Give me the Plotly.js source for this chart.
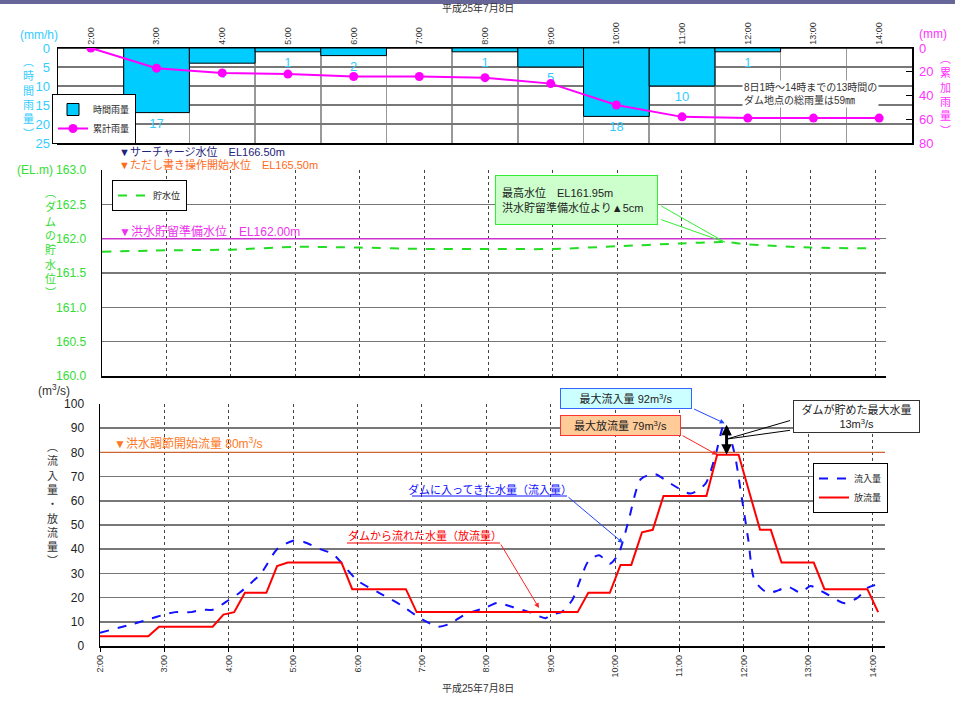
<!DOCTYPE html>
<html>
<head>
<meta charset="utf-8">
<script src="https://cdn.plot.ly/plotly-3.0.1.min.js"></script>
<style>html,body{margin:0;padding:0;background:#fff;}#chart{width:955px;height:701px;}</style>
</head>
<body>
<div id="chart"></div>
<script>
// ---------- data ----------
const hourTicks = ['2:00','3:00','4:00','5:00','6:00','7:00','8:00','9:00','10:00','11:00','12:00','13:00','14:00'];
const dateLabel = '平成25年7月8日';

// rainfall (top panel)
const rainTimes = ['2:00','3:00','4:00','5:00','6:00','7:00','8:00','9:00','10:00','11:00','12:00','13:00','14:00'];
const hourlyRain = [0,17,4,1,2,0,1,5,18,10,1,0,0];
const cumulativeRain = [0,17,21,22,24,24,25,30,48,58,59,59,59];

// reservoir level (middle panel)
const levelTimes = ['2:00','3:00','4:00','5:00','6:00','7:00','8:00','9:00','10:00','11:00','11:40','12:00','13:00','14:00'];
const levelValues = [161.81,161.83,161.84,161.88,161.87,161.85,161.85,161.85,161.89,161.93,161.95,161.92,161.87,161.86];
const floodPrepLevel = 162.00;

// inflow / outflow (bottom panel)
const inflowTimes = ['2:00','2:30','2:45','3:00','3:10','3:25','3:35','3:45','4:00','4:10','4:30','4:45','5:00','5:10','5:25','5:37','6:00','6:20','6:40','7:00','7:15','7:25','7:40','8:00','8:10','8:25','8:40','8:55','9:00','9:10','9:20','9:28','9:35','9:45','9:55','10:03','10:12','10:24','10:37','10:52','11:10','11:24','11:33','11:42','11:51','11:57','12:04','12:10','12:22','12:32','12:41','12:53','13:02','13:15','13:34','13:46','13:55','14:05'];
const inflowValues = [5.5,9,11,13,14,14,15,15,19,22,30,40,43.5,43,40,38,27,22,17,11,8,9,13,16,17.8,16,14,11.5,13,14,19,28,35,37.5,34,38,51,69,71,67,63,67,78,92,80,64,44,27,22,23,24.5,22,24.8,22,17.7,20,24,25.6];
const outflowTimes = ['2:00','2:45','2:55','3:45','3:55','4:05','4:15','4:35','4:45','4:55','5:45','5:55','6:45','6:55','9:25','9:35','9:55','10:05','10:15','10:25','10:35','10:45','11:25','11:35','11:55','12:15','12:25','12:35','13:05','13:15','13:55','14:05'];
const outflowValues = [4,4,8,8,13,14,22,22,33,34.5,34.5,23.5,23.5,14,14,22,22,33.5,33.5,47,48,62,62,79,79,48,48,34.5,34.5,23.5,23.5,14];
const controlStartFlow = 80;

// ---------- helpers ----------
const W = 955, H = 701;
const px = x => x / W;
const py = y => 1 - y / H;
const hm = s => { const p = s.split(':'); return +p[0] + (+p[1]) / 60; };
const hourVals = hourTicks.map(hm);
const FONT = 'Liberation Sans, Noto Sans CJK JP, sans-serif';
const vert = s => Array.from(s).join('<br>');

const rainX = rainTimes.map(hm);
const levelX = levelTimes.map(hm);
const inX = inflowTimes.map(hm);
const outX = outflowTimes.map(hm);

const maxIn = Math.max(...inflowValues);
const maxInT = inX[inflowValues.indexOf(maxIn)];
const maxOut = Math.max(...outflowValues);
const maxOutT = outX[outflowValues.indexOf(maxOut)];
const maxLevel = Math.max(...levelValues);
const maxLevelT = levelX[levelValues.indexOf(maxLevel)];

const traces = [
  {type:'bar', x:rainX, y:hourlyRain, xaxis:'x', yaxis:'y', width:1, name:'時間雨量', legend:'legend',
   marker:{color:'#00CCFF', line:{color:'#000', width:1}},
   text:hourlyRain.map(v => v ? String(v) : ''), textposition:'outside', cliponaxis:false,
   textfont:{color:'#33CCFF', size:13, family:FONT}},
  {type:'scatter', mode:'lines+markers', x:rainX, y:cumulativeRain, xaxis:'x', yaxis:'y2', name:'累計雨量', legend:'legend',
   line:{color:'#FF00FF', width:2}, marker:{color:'#FF00FF', size:9}},
  {type:'scatter', mode:'lines', x:levelX, y:levelValues, xaxis:'x2', yaxis:'y3', name:'貯水位', legend:'legend2',
   line:{color:'#22DD22', width:2, dash:'dash', shape:'spline', smoothing:0.8}},
  {type:'scatter', mode:'lines', x:inX, y:inflowValues, xaxis:'x3', yaxis:'y4', name:'流入量', legend:'legend3',
   line:{color:'#1111FF', width:2, dash:'dash', shape:'spline', smoothing:0.7}},
  {type:'scatter', mode:'lines', x:outX, y:outflowValues, xaxis:'x3', yaxis:'y4', name:'放流量', legend:'legend3',
   line:{color:'#FF0000', width:2}}
];

const gridCol = '#777';
const legendBase = {bgcolor:'#fff', bordercolor:'#000', borderwidth:1, font:{size:9, color:'#222', family:FONT},
  xanchor:'left', yanchor:'top', tracegroupgap:0, itemwidth:30};

function txt(text, x, y, opts) {
  return Object.assign({text:text, xref:'paper', yref:'paper', x:px(x), y:py(y), showarrow:false,
    xanchor:'center', yanchor:'middle', font:{size:11, color:'#333', family:FONT}}, opts || {});
}
function arrow(x, y, xref, yref, ax, ay, color, head, width, extra) {
  return Object.assign({text:'', x:x, y:y, xref:xref, yref:yref, ax:ax, ay:ay, showarrow:true,
    arrowhead:head, arrowsize:1, arrowwidth:width, arrowcolor:color, standoff:0, startstandoff:0}, extra || {});
}

const annotations = [
  txt(dateLabel, 478, 8, {font:{size:10, color:'#333', family:FONT}}),
  txt(dateLabel, 478, 688, {font:{size:10, color:'#333', family:FONT}}),
  // top panel
  txt('(mm/h)', 39, 35, {font:{size:12, color:'#33CCFF', family:FONT}}),
  txt(vert('︵時間雨量︶'), 28, 98, {font:{size:11, color:'#33CCFF', family:FONT}}),
  txt('(mm)', 933, 34, {font:{size:12, color:'#FF33FF', family:FONT}}),
  txt(vert('︵累加雨量︶'), 945, 95, {font:{size:11, color:'#FF33FF', family:FONT}}),
  txt('8日1時～14時までの13時間の<br>ダム地点の総雨量は59㎜', 810, 94,
      {align:'left', bgcolor:'#fff', font:{size:10, color:'#333', family:FONT}}),
  // middle panel
  txt('▼サーチャージ水位　EL166.50m', 117, 152, {xanchor:'left', font:{size:11, color:'#22227A', family:FONT}}),
  txt('▼ただし書き操作開始水位　EL165.50m', 117, 164.5, {xanchor:'left', font:{size:11, color:'#FF6A1A', family:FONT}}),
  txt('(EL.m)', 35, 170, {font:{size:12, color:'#33DD33', family:FONT}}),
  txt(vert('︵ダムの貯水位︶'), 50, 243, {font:{size:11, color:'#33DD33', family:FONT}}),
  txt('▼洪水貯留準備水位　EL162.00m', 117, 231, {xanchor:'left', font:{size:12, color:'#EE33EE', family:FONT}}),
  txt('最高水位　EL161.95m<br>洪水貯留準備水位より▲5cm', 576, 200,
      {align:'left', width:149, height:36, borderpad:6, bgcolor:'#CCFFCC', bordercolor:'#33EE33', borderwidth:1,
       font:{size:11, color:'#222', family:FONT}}),
  arrow(maxLevelT, maxLevel, 'x2', 'y3', -65, -37, '#33EE33', 0, 1),
  arrow(maxLevelT, maxLevel, 'x2', 'y3', -65, -23, '#33EE33', 0, 1),
  // bottom panel
  txt('(m<sup>3</sup>/s)', 54, 390, {font:{size:12, color:'#333', family:FONT}}),
  txt(vert('︵流入量・放流量︶'), 52, 504, {font:{size:11, color:'#333', family:FONT}}),
  txt('▼洪水調節開始流量 80m<sup>3</sup>/s', 112, 443, {xanchor:'left', font:{size:12, color:'#FF7722', family:FONT}}),
  arrow(maxInT, maxIn, 'x3', 'y4', -32, -15, '#2244FF', 2, 1),
  arrow(maxOutT, maxOut, 'x3', 'y4', -36, -20, '#FF2222', 2, 1),
  arrow(maxInT + 0.03, maxOut, 'x3', 'y4', maxInT + 0.03, maxIn, '#000', 2, 3,
        {axref:'x3', ayref:'y4', arrowside:'end+start', arrowsize:0.7}),
  arrow(maxInT + 0.03, (maxIn + maxOut) / 2, 'x3', 'y4', 65, -19, '#000', 0, 1),
  arrow(maxInT + 0.03, (maxIn + maxOut) / 2, 'x3', 'y4', 65, -9, '#000', 0, 1),
  txt('最大流入量 92m<sup>3</sup>/s', 626, 398.5,
      {width:126, height:15, borderpad:2, bgcolor:'#CCFFFF', bordercolor:'#3366FF', borderwidth:1,
       font:{size:11, color:'#222', family:FONT}}),
  txt('最大放流量 79m<sup>3</sup>/s', 620.5, 425.5,
      {width:115, height:15, borderpad:2, bgcolor:'#FFCC99', bordercolor:'#FF3333', borderwidth:1,
       font:{size:11, color:'#222', family:FONT}}),
  txt('ダムが貯めた最大水量<br>13m<sup>3</sup>/s', 856, 416.5,
      {width:121, height:27, borderpad:2, bgcolor:'#fff', bordercolor:'#333', borderwidth:1,
       font:{size:11, color:'#222', family:FONT}}),
  txt('ダムに入ってきた水量（流入量）', 490, 489, {font:{size:11, color:'#1111FF', family:FONT}}),
  arrow(px(623), py(543), 'paper', 'paper', -56, -47, '#2244FF', 2, 1),
  txt('ダムから流れた水量（放流量）', 425, 535, {font:{size:11, color:'#FF0000', family:FONT}}),
  arrow(px(539), py(608), 'paper', 'paper', -39, -65, '#FF2222', 2, 1)
];

const shapes = [
  {type:'rect', xref:'paper', yref:'paper', x0:0, x1:1, y0:py(4), y1:1, fillcolor:'#666699', line:{width:0}, layer:'below'},
  {type:'line', xref:'x2', yref:'y3', x0:hourVals[0], x1:14.08, y0:floodPrepLevel, y1:floodPrepLevel,
   line:{color:'#CC33CC', width:1.5}},
  {type:'line', xref:'x3', yref:'y4', x0:hourVals[0], x1:14.19, y0:controlStartFlow, y1:controlStartFlow,
   line:{color:'#CC6633', width:1.2}},
  {type:'line', xref:'paper', yref:'paper', x0:px(412), x1:px(567), y0:py(496), y1:py(496), line:{color:'#1111FF', width:1}},
  {type:'line', xref:'paper', yref:'paper', x0:px(347), x1:px(500), y0:py(543), y1:py(543), line:{color:'#FF0000', width:1}}
];

const layout = {
  width:W, height:H, margin:{l:0, r:0, t:0, b:0}, paper_bgcolor:'#fff', plot_bgcolor:'#fff',
  font:{family:FONT, size:11, color:'#333'}, showlegend:true,
  xaxis:{domain:[px(58), px(912)], anchor:'y', side:'top', range:[1.5, 14.5], tickmode:'array',
    tickvals:hourVals, ticktext:hourTicks, tickangle:-90, tickfont:{size:9, color:'#333'}, ticks:'',
    showgrid:false, zeroline:false, showline:true, mirror:true, linecolor:'#000', linewidth:1.5,
    minor:{tickmode:'array', tickvals:hourVals.map(v => v + 0.5), showgrid:true, gridcolor:'#999', gridwidth:1.5, ticks:''}},
  yaxis:{domain:[py(143), py(48)], anchor:'x', range:[25, 0], tickvals:[0,5,10,15,20,25],
    tickfont:{size:13, color:'#33CCFF'}, gridcolor:gridCol, gridwidth:1.5, zeroline:false,
    showline:true, mirror:true, linecolor:'#000', linewidth:1.5, ticks:'', ticklabelstandoff:4},
  yaxis2:{overlaying:'y', anchor:'x', side:'right', range:[80, 0], tickvals:[0,20,40,60,80],
    tickfont:{size:13, color:'#FF33FF'}, showgrid:false, zeroline:false, ticks:'inside', ticklen:6,
    tickcolor:'#000', ticklabelstandoff:6},
  xaxis2:{domain:[px(102), px(886)], anchor:'y3', range:[2, 14.17], tickmode:'array', tickvals:hourVals,
    showticklabels:false, ticks:'', showgrid:true, gridcolor:'#444', griddash:'dot', gridwidth:1,
    zeroline:false, showline:true, linecolor:'#000', linewidth:1.5},
  yaxis3:{domain:[py(376), py(170)], anchor:'x2', range:[160, 163], dtick:0.5, tickformat:'.1f',
    tickfont:{size:12, color:'#33DD33'}, gridcolor:gridCol, gridwidth:1.5, zeroline:false,
    showline:true, linecolor:'#000', linewidth:1.5, ticks:'', ticklabelstandoff:12},
  xaxis3:{domain:[px(100), px(885)], anchor:'y4', range:[2, 14.19], tickmode:'array', tickvals:hourVals,
    ticktext:hourTicks, tickangle:-90, tickfont:{size:9, color:'#333'}, ticks:'outside', ticklen:4,
    tickcolor:'#000', showgrid:true, gridcolor:'#444', griddash:'dot', gridwidth:1, zeroline:false,
    showline:true, linecolor:'#000', linewidth:1.5},
  yaxis4:{domain:[py(646), py(404)], anchor:'x3', range:[0, 100], dtick:10,
    tickfont:{size:12, color:'#222'}, gridcolor:gridCol, gridwidth:1.5, zeroline:false,
    showline:true, linecolor:'#000', linewidth:1.5, ticks:'', ticklabelstandoff:12},
  legend:Object.assign({}, legendBase, {x:px(52), y:py(144), yanchor:'bottom'}),
  legend2:Object.assign({}, legendBase, {x:px(112), y:py(180)}),
  legend3:Object.assign({}, legendBase, {x:px(813), y:py(463)}),
  annotations:annotations,
  shapes:shapes
};

Plotly.newPlot('chart', traces, layout, {displayModeBar:false, staticPlot:true});
</script>
</body>
</html>
